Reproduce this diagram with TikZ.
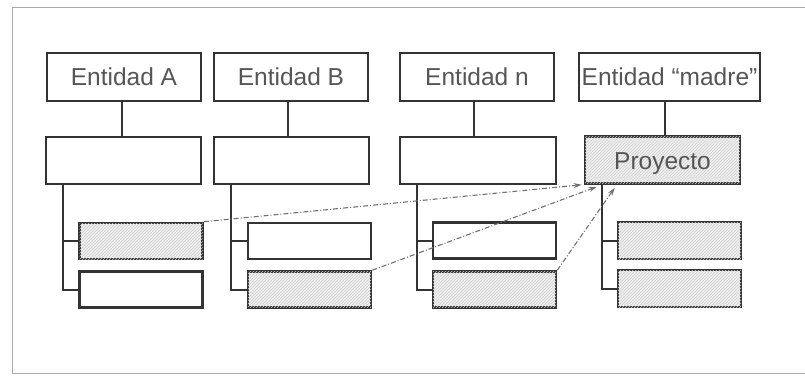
\documentclass[tikz,border=0pt]{standalone}
\usepackage{fontspec}
\setmainfont{Liberation Sans}
\usetikzlibrary{calc,patterns,arrows.meta}
\definecolor{edge}{HTML}{333333}
\definecolor{txt}{HTML}{555555}
\definecolor{frame}{HTML}{AAAAAA}
\definecolor{link}{HTML}{707070}
\tikzset{
  box/.style={draw=edge, line width=2.6pt, inner sep=0pt, minimum height=47pt,
    font=\fontsize{24.5}{26}\selectfont, text=txt},
  ent/.style={box, minimum width=154pt, minimum height=48pt},
  mid/.style={box, minimum width=155pt},
  sub/.style={box, minimum width=123pt, minimum height=36pt},
  shaded/.style={fill=gray!10, postaction={pattern=north east lines, pattern color=gray!40}},
  wire/.style={draw=edge, line width=2pt},
  ref/.style={draw=link, line width=1.1pt, dash pattern=on 5pt off 2pt on 1pt off 2pt,
    -{Stealth[length=8pt,width=5pt,fill=edge]}},
}
\begin{document}
\begin{tikzpicture}[x=1pt,y=-1pt]
\useasboundingbox (0,0) rectangle (805,375);
% outer frame
\draw[frame, line width=0.8pt] (806,7) -- (12,7) -- (12,373) -- (806,373);

% entities
\node[ent] (eA) at (124,77) {Entidad A};
\node[ent] (eB) at (291,77) {Entidad B};
\node[ent] (eN) at (477,77) {Entidad n};
\node[ent, minimum width=181pt] (eM) at (669.5,77) {Entidad “madre”};

% second level
\node[mid] (mA) at (123.5,160.5) {};
\node[mid] (mB) at (291.5,160.5) {};
\node[mid, minimum width=156pt] (mN) at (478,160.5) {};
\node[mid, shaded, text depth=0pt] (mM) at (662.5,160) {\raisebox{-3pt}{Proyecto}};

% third level
\node[sub, shaded] (sA1) at (141,241) {};
\node[sub] (sA2) at (141,289.5) {};
\node[sub] (sB1) at (309.5,241) {};
\node[sub, shaded] (sB2) at (309.5,289.5) {};
\node[sub] (sN1) at (494.5,240.5) {};
\node[sub, shaded] (sN2) at (494.5,289.5) {};
\node[sub, shaded, minimum height=37pt] (sM1) at (679.5,240.5) {};
\node[sub, shaded, minimum height=37pt] (sM2) at (679.5,288.5) {};

% entity to second level (vertical drops)
\foreach \e/\m/\dx in {eA/mA/-1.5, eB/mB/-3.5, eN/mN/-4, eM/mM/2.5}{
  \coordinate (d\m) at ($(\m.north)+(\dx,0)$);
  \draw[wire] (d\m) -- (d\m |- \e.south);
}

% branches to third level
\foreach \m/\a/\b in {mA/sA1/sA2, mB/sB1/sB2, mN/sN1/sN2, mM/sM1/sM2}{
  \coordinate (t\m) at ($(\m.south west)+(18,0)$);
  \draw[wire] (t\m) |- (\b.west);
  \draw[wire] (t\m |- \a.west) -- (\a.west);
}

% references to the project
\draw[ref] (sA1.north east) -- ($(mM.south west)+(-2,0)$);
\draw[ref] (sB2.north east) -- ($(mM.south west)+(13,2)$);
\draw[ref] (sN2.north east) -- ($(mM.south west)+(31,3)$);
\end{tikzpicture}
\end{document}
